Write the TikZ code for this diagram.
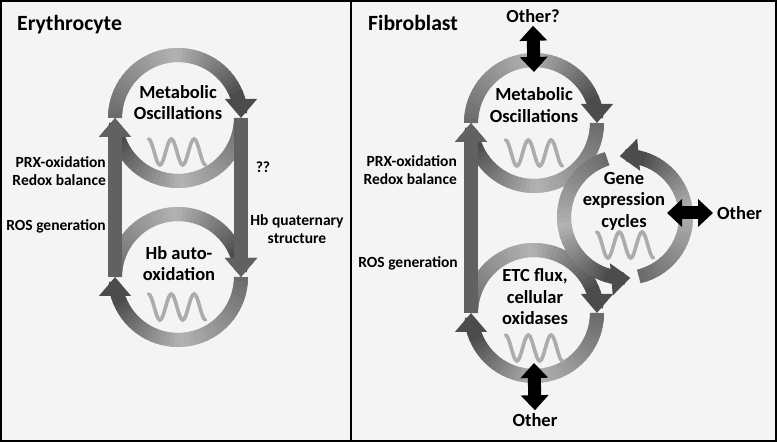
\documentclass[tikz,border=0pt]{standalone}
\usepackage{fontspec}
\setmainfont{Carlito}
\usetikzlibrary{arrows.meta, positioning}
\definecolor{panelbg}{RGB}{244,244,244}
\definecolor{wavegray}{RGB}{172,172,172}
\tikzset{
  ring/.style = {circle, inner sep=0pt, outer sep=0pt, minimum size=126bp},
  cyc/.style = {draw=black!70, line width=14bp,
    -{Triangle[width=31bp,length=19bp]}},
  bar/.style = {cyc, draw=black!62},
  dbl/.style = {draw=black, line width=13bp,
    {Triangle[width=27bp,length=15bp]}-{Triangle[width=27bp,length=15bp]}},
  lbl/.style = {font=\fontsize{15.5bp}{18bp}\selectfont\bfseries,
    align=right, inner sep=0pt},
  cname/.style = {font=\fontsize{18.5bp}{21.5bp}\selectfont\bfseries,
    align=center, inner sep=0pt},
  ttl/.style = {font=\fontsize{21.7bp}{24bp}\selectfont\bfseries,
    inner sep=0pt},
  wave/.pic = {\draw[wavegray, line width=3.6bp, line cap=round]
    (-28.5,13) cos ++(5.7,-13) sin ++(5.7,-13) cos ++(5.7,13) sin ++(5.7,13)
    cos ++(5.7,-13) sin ++(5.7,-13) cos ++(5.7,13) sin ++(5.7,13)
    cos ++(5.7,-13) sin ++(5.7,-13);}
}
% shaded circular arrow: #1 ring node, #2 start angle, #3 end angle, #4 radius
\newcommand{\cycarc}[4]{%
  \pgfmathsetmacro{\cycstop}{#3-20*sign(#3-#2)}
  \foreach \k in {0,...,35}{%
    \pgfmathsetmacro{\cyca}{#2+(\cycstop-#2)*\k/36}
    \pgfmathsetmacro{\cycb}{#2+(\cycstop-#2)*(\k+1.8)/36}
    \pgfmathsetmacro{\cycshade}{(\k/35<0.55) ? (58-28*\k/35/0.55) : (30+40*(\k/35-0.55)/0.45)}
    \draw[line width=14bp, draw=black!\cycshade]
      ([shift={(\cyca:#4)}]#1.center) arc[start angle=\cyca, end angle=\cycb, radius=#4];
  }
  \draw[cyc] ([shift={(\cycstop:#4)}]#1.center) arc[start angle=\cycstop, end angle=#3, radius=#4];
}

\begin{document}
\begin{tikzpicture}[x=1bp, y=1bp]
\useasboundingbox (0,0) rectangle (777,443);
% two panels
\draw[line width=2bp, fill=panelbg] (1,2) rectangle (351,442);
\draw[line width=2bp, fill=panelbg] (351,2) rectangle (776,442);

% erythrocyte
\node[ttl, anchor=west] (ery) at (17,418) {Erythrocyte};
\node[ring] (eMO) at (178,325) {};
\node[ring] (eHb) at (178,166) {};
\cycarc{eMO}{180}{0}{63bp}
\cycarc{eMO}{0}{-180}{63bp}
\cycarc{eHb}{180}{0}{63bp}
\cycarc{eHb}{0}{-180}{63bp}
\draw[bar] (eHb.180) -- (eMO.180);
\draw[bar] (eMO.0) -- (eHb.0);
\node[cname] (eMOt) at (178,340.5) {Metabolic\\Oscillations};
\pic at (177,291) {wave};
\node[cname] (eHbt) at (179,179.5) {Hb auto-\\oxidation};
\pic at (177,136) {wave};
\node[lbl, anchor=east] (ePRX) at (106,272) {PRX-oxidation\\Redox balance};
\node[lbl, anchor=east] (eROS) at (106,217) {ROS generation};
\node[lbl] (eQQ) at (263,276) {??};
\node[lbl, align=center] (eHbq) at (297,214) {Hb quaternary\\structure};

% fibroblast
\node[ttl, anchor=west] (fib) at (368,420) {Fibroblast};
\node[ring] (rMO) at (534,320) {};
\node[ring] (rETC) at (534,130) {};
\node[ring, minimum size=122bp] (gene) at (625,226) {};
\cycarc{rMO}{180}{0}{63bp}
\cycarc{rMO}{0}{-180}{63bp}
\cycarc{rETC}{180}{0}{63bp}
\cycarc{rETC}{0}{-180}{63bp}
\draw[bar] (rETC.180) -- (rMO.180);
\cycarc{gene}{107}{275}{61bp}
\cycarc{gene}{283}{455}{61bp}
\node[cname] (rMOt) at (534,338) {Metabolic\\Oscillations};
\pic at (534,290) {wave};
\node[cname] (rETCt) at (535,146) {ETC flux,\\cellular\\oxidases};
\pic at (534,95) {wave};
\node[cname] (genet) at (624,242) {Gene\\expression\\cycles};
\pic at (625,198) {wave};
\node[lbl, anchor=east] (rPRX) at (457,272.5) {PRX-oxidation\\Redox balance};
\node[lbl, anchor=east] (rROS) at (458,180) {ROS generation};

% other links
\node[cname] (othT) at (533,427) {Other?};
\node[cname] (othB) at (535,23) {Other};
\node[cname, anchor=west] (othR) at (717,230) {Other};
\coordinate (gR) at (gene.0 |- othR.west);
\draw[dbl] ([yshift=-3bp]othT.south) -- ([yshift=-12bp]rMO.90);
\draw[dbl] ([yshift=3bp]othB.north) -- ([yshift=13bp]rETC.270);
\draw[dbl] ([xshift=-19bp]gR) -- ([xshift=-4bp]othR.west);
\end{tikzpicture}
\end{document}
